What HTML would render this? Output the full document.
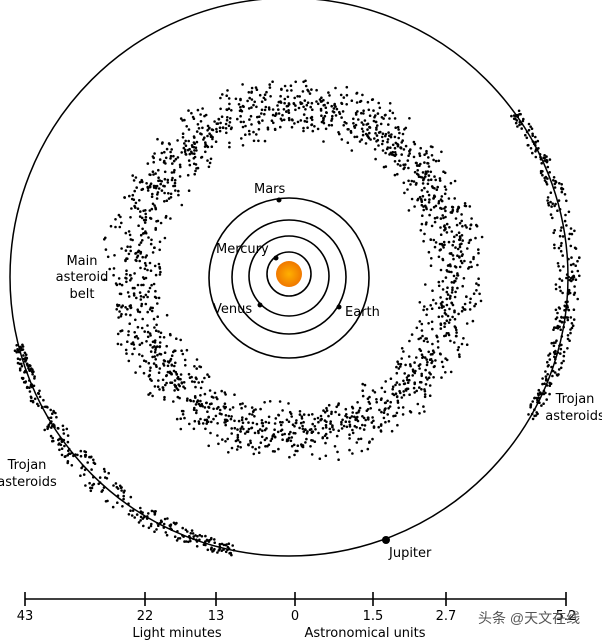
<!DOCTYPE html>
<html><head><meta charset="utf-8"><style>
html,body{margin:0;padding:0;background:#fff;}
svg{display:block;}
text{font-family:"DejaVu Sans","Liberation Sans",sans-serif;font-size:13px;fill:#000;}
</style></head><body>
<svg id="s" width="602" height="640" viewBox="0 0 602 640" xmlns="http://www.w3.org/2000/svg">
<defs><radialGradient id="g" cx="50%" cy="50%" r="50%"><stop offset="0" stop-color="#ffb000"/><stop offset="1" stop-color="#f07800"/></radialGradient></defs>
<circle cx="289" cy="277" r="279" fill="none" stroke="#000" stroke-width="1.5"/>
<g id="dots" fill="#000"></g>
<g fill="none" stroke="#000" stroke-width="1.6">
<circle cx="289" cy="274" r="22"/>
<circle cx="289" cy="276" r="40"/>
<circle cx="289" cy="277" r="57"/>
<circle cx="289" cy="278" r="80"/>
</g>
<circle cx="289" cy="274" r="13" fill="url(#g)"/>
<circle cx="276" cy="258" r="2.5"/>
<circle cx="260" cy="305" r="2.5"/>
<circle cx="339" cy="307" r="2.5"/>
<circle cx="279" cy="200" r="2.5"/>
<circle cx="386" cy="540" r="4"/>
<text x="254" y="193">Mars</text>
<text x="216" y="253">Mercury</text>
<text x="213" y="313">Venus</text>
<text x="345" y="316">Earth</text>
<text x="82" y="265" text-anchor="middle">Main</text>
<text x="82" y="281" text-anchor="middle">asteroid</text>
<text x="82" y="298" text-anchor="middle">belt</text>
<text x="27" y="469" text-anchor="middle">Trojan</text>
<text x="27" y="486" text-anchor="middle">asteroids</text>
<text x="575" y="403" text-anchor="middle">Trojan</text>
<text x="575" y="420" text-anchor="middle">asteroids</text>
<text x="389" y="557">Jupiter</text>
<g stroke="#000" stroke-width="1.6">
<line x1="25" y1="599" x2="566" y2="599"/>
<line x1="25" y1="592" x2="25" y2="606"/>
<line x1="145" y1="592" x2="145" y2="606"/>
<line x1="216" y1="592" x2="216" y2="606"/>
<line x1="295" y1="592" x2="295" y2="606"/>
<line x1="373" y1="592" x2="373" y2="606"/>
<line x1="446" y1="592" x2="446" y2="606"/>
<line x1="566" y1="592" x2="566" y2="606"/>
</g>
<g text-anchor="middle">
<text x="25" y="620">43</text>
<text x="145" y="620">22</text>
<text x="216" y="620">13</text>
<text x="295" y="620">0</text>
<text x="373" y="620">1.5</text>
<text x="446" y="620">2.7</text>
<text x="566" y="620">5.2</text>
<text x="177" y="637">Light minutes</text>
<text x="365" y="637">Astronomical units</text>
</g>
<text x="478" y="623" style="font-family:'Liberation Sans','Noto Sans CJK SC',sans-serif;font-size:14px;fill:#555">头条 @天文在线</text>
</svg>
<script>
var s=987654321;function r(){s|=0;s=s+0x6D2B79F5|0;var t=Math.imul(s^s>>>15,1|s);t=t+Math.imul(t^t>>>7,61|t)^t;return((t^t>>>14)>>>0)/4294967296;}
var g=document.getElementById('dots'),h='';
function dot(x,y){h+='<circle cx="'+x.toFixed(1)+'" cy="'+y.toFixed(1)+'" r="1.3"/>';}
for(var i=0;i<1900;i++){var a=r()*Math.PI*2;var rr=128+(r()+r())/2*66;dot(294+rr*Math.cos(a),271+rr*Math.sin(a)*1.02);}
function troj(a0,a1,n){for(var i=0;i<n;i++){var t=r();var a=(a0+(a1-a0)*t)*Math.PI/180;var w=1-Math.abs(t-0.5)*1.2;var rr=279+(r()-0.5)*26*w;dot(289+rr*Math.cos(a),277+rr*Math.sin(a));}}
troj(101,166,330);troj(-36,31,300);
g.innerHTML=h;
</script>
</body></html>
